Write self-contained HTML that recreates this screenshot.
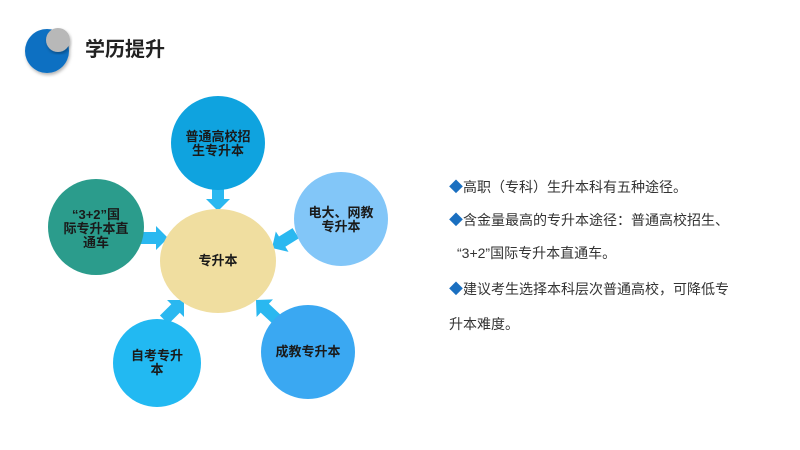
<!DOCTYPE html>
<html><head><meta charset="utf-8"><style>
body{margin:0;width:800px;height:450px;background:#fff;overflow:hidden;position:relative;font-family:"Liberation Sans","Noto Sans CJK SC",sans-serif}
.t{position:absolute;font-size:14px;color:#333;white-space:nowrap}
.d{color:#1a6fc0}
</style></head><body>
<svg width="800" height="450" style="position:absolute;left:0;top:0">
<defs><filter id="s"><feDropShadow dx="1" dy="2" stdDeviation="1.5" flood-opacity="0.3"/></filter>
<polygon id="a" points="-28,-6 -12,-6 -12,-12 0,0 -12,12 -12,6 -28,6"/></defs>
<circle cx="47" cy="51" r="22" fill="#0b6fc2" filter="url(#s)"/>
<circle cx="58" cy="40" r="12" fill="#b8b8b8" filter="url(#s)"/>
<text x="85" y="56" font-size="20" font-weight="bold" fill="#222" font-family="Liberation Sans,Noto Sans CJK SC,sans-serif">学历提升</text>
<g fill="#2ab8f0">
<use href="#a" transform="translate(218,211) rotate(90)"/>
<use href="#a" transform="translate(168,238)"/>
<use href="#a" transform="translate(272,248) rotate(148)"/>
<use href="#a" transform="translate(184,300) rotate(-45)"/>
<use href="#a" transform="translate(256,300) rotate(-137)"/>
</g>
<circle cx="218" cy="143" r="47" fill="#0fa3df"/>
<ellipse cx="218" cy="261" rx="58" ry="52" fill="#f0dea0"/>
<circle cx="96" cy="227" r="48" fill="#2b9c8c"/>
<circle cx="341" cy="219" r="47" fill="#82c6f8"/>
<circle cx="157" cy="363" r="44" fill="#22b9f2"/>
<circle cx="308" cy="352" r="47" fill="#3aa8f2"/>
<g font-size="13" font-weight="bold" fill="#1a1a1a" text-anchor="middle" font-family="Liberation Sans,Noto Sans CJK SC,sans-serif">
<text x="218" y="141">普通高校招</text><text x="218" y="155">生专升本</text>
<text x="218" y="265">专升本</text>
<text x="96" y="219">“3+2”国</text><text x="96" y="233">际专升本直</text><text x="96" y="247">通车</text>
<text x="341" y="217">电大、网教</text><text x="341" y="231">专升本</text>
<text x="157" y="360">自考专升</text><text x="157" y="374">本</text>
<text x="308" y="356">成教专升本</text>
</g>
</svg>
<div class="t" style="left:449px;top:177px"><span class="d">◆</span>高职（专科）生升本科有五种途径。</div>
<div class="t" style="left:449px;top:210px"><span class="d">◆</span>含金量最高的专升本途径：普通高校招生、</div>
<div class="t" style="left:457px;top:243px">“3+2”国际专升本直通车。</div>
<div class="t" style="left:449px;top:279px"><span class="d">◆</span>建议考生选择本科层次普通高校，可降低专</div>
<div class="t" style="left:449px;top:314px">升本难度。</div>
</body></html>
